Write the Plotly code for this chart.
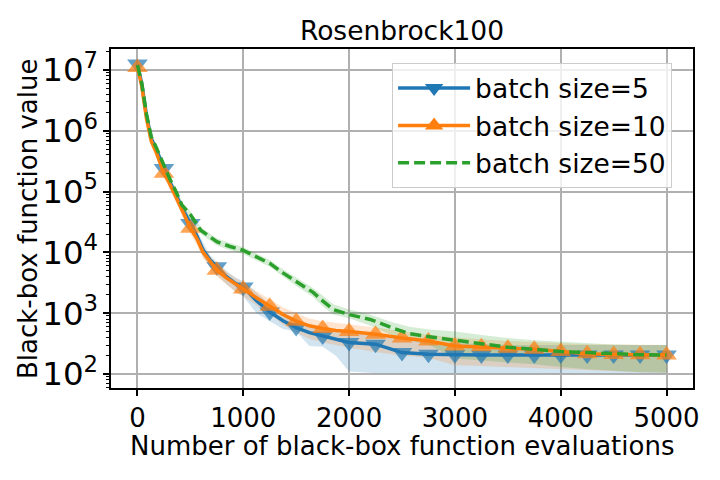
import plotly.graph_objects as go

# ---------------- data ----------------
evals = [0, 40, 85, 130, 180, 250, 300, 370, 430, 500, 560, 620, 685, 750, 840, 935,
         1000, 1125, 1250, 1375, 1500, 1625, 1750, 1875, 2000, 2250, 2500, 2750, 3000,
         3250, 3500, 3750, 4000, 4250, 4500, 4750, 5000]

b5_mean = [1.25e7, 6.0e6, 1.8e6, 7.5e5, 4.8e5, 2.4e5, 1.5e5, 8.5e4, 5.0e4, 3.0e4, 1.9e4,
           1.1e4, 7.5e3, 5.8e3, 4.0e3, 3.0e3, 2.7e3, 1.6e3, 1.05e3, 750, 580, 480, 420,
           370, 330, 310, 225, 212, 207, 206, 205, 205, 205, 205, 205, 205, 205]
b5_lo = [1.05e7, 5.0e6, 1.5e6, 6.2e5, 4.0e5, 2.0e5, 1.25e5, 7.0e4, 4.0e4, 2.3e4, 1.5e4,
         8.5e3, 5.8e3, 4.3e3, 3.0e3, 2.2e3, 1.9e3, 1.0e3, 740, 550, 500, 290, 280, 200,
         110, 103, 103, 103, 103, 103, 103, 103, 103, 103, 103, 103, 103]
b5_hi = [1.4e7, 7.0e6, 2.1e6, 9.0e5, 5.6e5, 2.8e5, 1.8e5, 1.0e5, 6.0e4, 3.6e4, 2.3e4,
         1.4e4, 9.0e3, 7.0e3, 5.0e3, 3.8e3, 3.4e3, 2.2e3, 1.4e3, 1.0e3, 800, 650, 580,
         520, 480, 440, 380, 340, 320, 310, 300, 300, 300, 300, 300, 300, 300]

b10_mean = [1.1e7, 5.5e6, 1.6e6, 6.8e5, 4.3e5, 2.0e5, 1.4e5, 8.0e4, 4.6e4, 2.5e4, 1.7e4,
            1.0e4, 7.0e3, 5.1e3, 3.8e3, 2.9e3, 2.5e3, 1.8e3, 1.3e3, 950, 740, 620, 560,
            520, 500, 450, 390, 350, 290, 280, 265, 255, 235, 215, 210, 207, 205]
b10_lo = [9.5e6, 4.6e6, 1.35e6, 5.7e5, 3.6e5, 1.7e5, 1.15e5, 6.5e4, 3.8e4, 2.0e4, 1.35e4,
          8.0e3, 5.6e3, 4.0e3, 3.0e3, 2.2e3, 1.9e3, 1.35e3, 950, 650, 480, 380, 330,
          300, 270, 230, 200, 185, 140, 135, 130, 125, 120, 115, 110, 107, 105]
b10_hi = [1.3e7, 6.5e6, 1.9e6, 8.1e5, 5.1e5, 2.4e5, 1.7e5, 9.6e4, 5.6e4, 3.1e4, 2.1e4,
          1.25e4, 8.8e3, 6.5e3, 4.8e3, 3.7e3, 3.2e3, 2.3e3, 1.7e3, 1.25e3, 1.0e3, 820,
          740, 690, 660, 580, 510, 440, 400, 370, 350, 335, 320, 310, 305, 300, 300]

evals50 = [0, 40, 85, 130, 180, 250, 300, 370, 420, 500, 600, 750, 875, 1000, 1125, 1250,
           1375, 1500, 1660, 1750, 1850, 2000, 2200, 2400, 2570, 2760, 3000, 3250, 3500,
           3750, 4000, 4250, 4500, 4750, 5000]
b50_mean = [1.2e7, 6.2e6, 1.9e6, 8.0e5, 5.2e5, 2.6e5, 1.7e5, 9.5e4, 6.0e4, 4.2e4, 2.3e4,
            1.5e4, 1.25e4, 1.08e4, 8.5e3, 6.6e3, 4.6e3, 3.3e3, 2.2e3, 1.6e3, 1.15e3, 950,
            790, 580, 460, 410, 360, 312, 275, 255, 234, 225, 214, 208, 205]
b50_lo = [1.05e7, 5.4e6, 1.65e6, 7.0e5, 4.5e5, 2.25e5, 1.5e5, 8.3e4, 5.2e4, 3.6e4, 2.0e4,
          1.3e4, 1.08e4, 9.4e3, 7.4e3, 5.8e3, 4.0e3, 2.8e3, 1.85e3, 1.3e3, 950, 830, 620,
          440, 360, 300, 180, 165, 155, 145, 130, 120, 112, 107, 105]
b50_hi = [1.35e7, 7.0e6, 2.15e6, 9.0e5, 5.9e5, 2.95e5, 1.9e5, 1.08e5, 6.8e4, 4.8e4, 2.6e4,
          1.7e4, 1.42e4, 1.22e4, 9.6e3, 7.5e3, 5.3e3, 3.9e3, 2.6e3, 1.95e3, 1.4e3, 1.15e3,
          950, 720, 600, 540, 500, 440, 390, 360, 340, 320, 305, 300, 300]

labels = ["batch size=5", "batch size=10", "batch size=50"]
x_ticks = [0, 1000, 2000, 3000, 4000, 5000]
marker_every = 250

# ---------------- figure ----------------
C5, C10, C50 = "#1f77b4", "#ff7f0e", "#2ca02c"
F5, F10, F50 = "rgba(31,119,180,0.2)", "rgba(255,127,14,0.2)", "rgba(44,160,44,0.2)"
FONT = "DejaVu Sans"
DASH = "11px,5px"

fig = go.Figure()


def band(x, lo, hi, fill):
    fig.add_trace(go.Scatter(x=x, y=lo, mode="lines", line=dict(width=0),
                             showlegend=False, hoverinfo="skip"))
    fig.add_trace(go.Scatter(x=x, y=hi, mode="lines", line=dict(width=0),
                             fill="tonexty", fillcolor=fill, showlegend=False,
                             hoverinfo="skip"))


band(evals, b5_lo, b5_hi, F5)
band(evals, b10_lo, b10_hi, F10)
band(evals50, b50_lo, b50_hi, F50)

msizes = [18 if e % marker_every == 0 else 0 for e in evals]

fig.add_trace(go.Scatter(x=evals, y=b5_mean, mode="lines+markers",
                         line=dict(color=C5, width=3.5),
                         marker=dict(symbol="triangle-down", size=msizes, color=C5,
                                     line=dict(width=0)),
                         showlegend=False))
fig.add_trace(go.Scatter(x=evals, y=b10_mean, mode="lines+markers",
                         line=dict(color=C10, width=3.5),
                         marker=dict(symbol="triangle-up", size=msizes, color=C10,
                                     line=dict(width=0)),
                         showlegend=False))
fig.add_trace(go.Scatter(x=evals50, y=b50_mean, mode="lines",
                         line=dict(color=C50, width=3.5, dash=DASH),
                         showlegend=False))

# legend entries
fig.add_trace(go.Scatter(x=[None], y=[None], mode="lines+markers", name=labels[0],
                         legendgroup="a", line=dict(color=C5, width=3.5),
                         marker=dict(symbol="triangle-down", size=16, color=C5)))
fig.add_trace(go.Scatter(x=[None], y=[None], mode="lines+markers", name=labels[1],
                         legendgroup="b", line=dict(color=C10, width=3.5),
                         marker=dict(symbol="triangle-up", size=16, color=C10)))
fig.add_trace(go.Scatter(x=[None], y=[None], mode="lines", name=labels[2],
                         legendgroup="c", line=dict(color=C50, width=3.5, dash=DASH)))

axis_common = dict(showline=True, linecolor="black", linewidth=1.5, mirror=True,
                   ticks="outside", ticklen=6, tickwidth=1.5, tickcolor="black",
                   showgrid=True, gridcolor="#b0b0b0", gridwidth=1.5, zeroline=False,
                   tickfont=dict(family=FONT, size=26, color="black"))

# The page body has an 8px margin, so the figure is offset by 8px; compensate.
fig.update_layout(
    width=720, height=480,
    margin=dict(l=103, r=35, t=41, b=100),
    paper_bgcolor="white", plot_bgcolor="white",
    font=dict(family=FONT, color="black"),
    title=dict(text="Rosenbrock100", x=0.5, xref="paper", y=1 - 23 / 480,
               yref="container", xanchor="center", yanchor="middle",
               font=dict(family=FONT, size=26.5, color="black")),
    legend=dict(x=0.483, y=0.958, xanchor="left", yanchor="top",
                traceorder="normal", itemwidth=72,
                bgcolor="rgba(255,255,255,0.8)", bordercolor="#cccccc", borderwidth=1,
                font=dict(family=FONT, size=26.5, color="black"),
                tracegroupgap=7),
    xaxis=dict(range=[-250, 5250], tickvals=x_ticks, ticklabelstandoff=0, **axis_common),
    yaxis=dict(type="log", range=[1.77, 7.345], dtick=1, exponentformat="power",
               showexponent="all",
               minor=dict(ticks="outside", ticklen=3.5, tickwidth=1, tickcolor="black",
                          dtick="D1", showgrid=False),
               **axis_common),
    annotations=[
        dict(text="Number of black-box function evaluations", xref="paper", yref="paper",
             x=0.5, y=-0.171, xanchor="center", yanchor="middle", showarrow=False,
             font=dict(family=FONT, size=26, color="black")),
        dict(text="Black-box function value", xref="paper", yref="paper",
             x=-0.1426, y=0.4985, xanchor="center", yanchor="middle", showarrow=False,
             textangle=-90, font=dict(family=FONT, size=26, color="black")),
    ],
)

fig.write_html("out.html")
